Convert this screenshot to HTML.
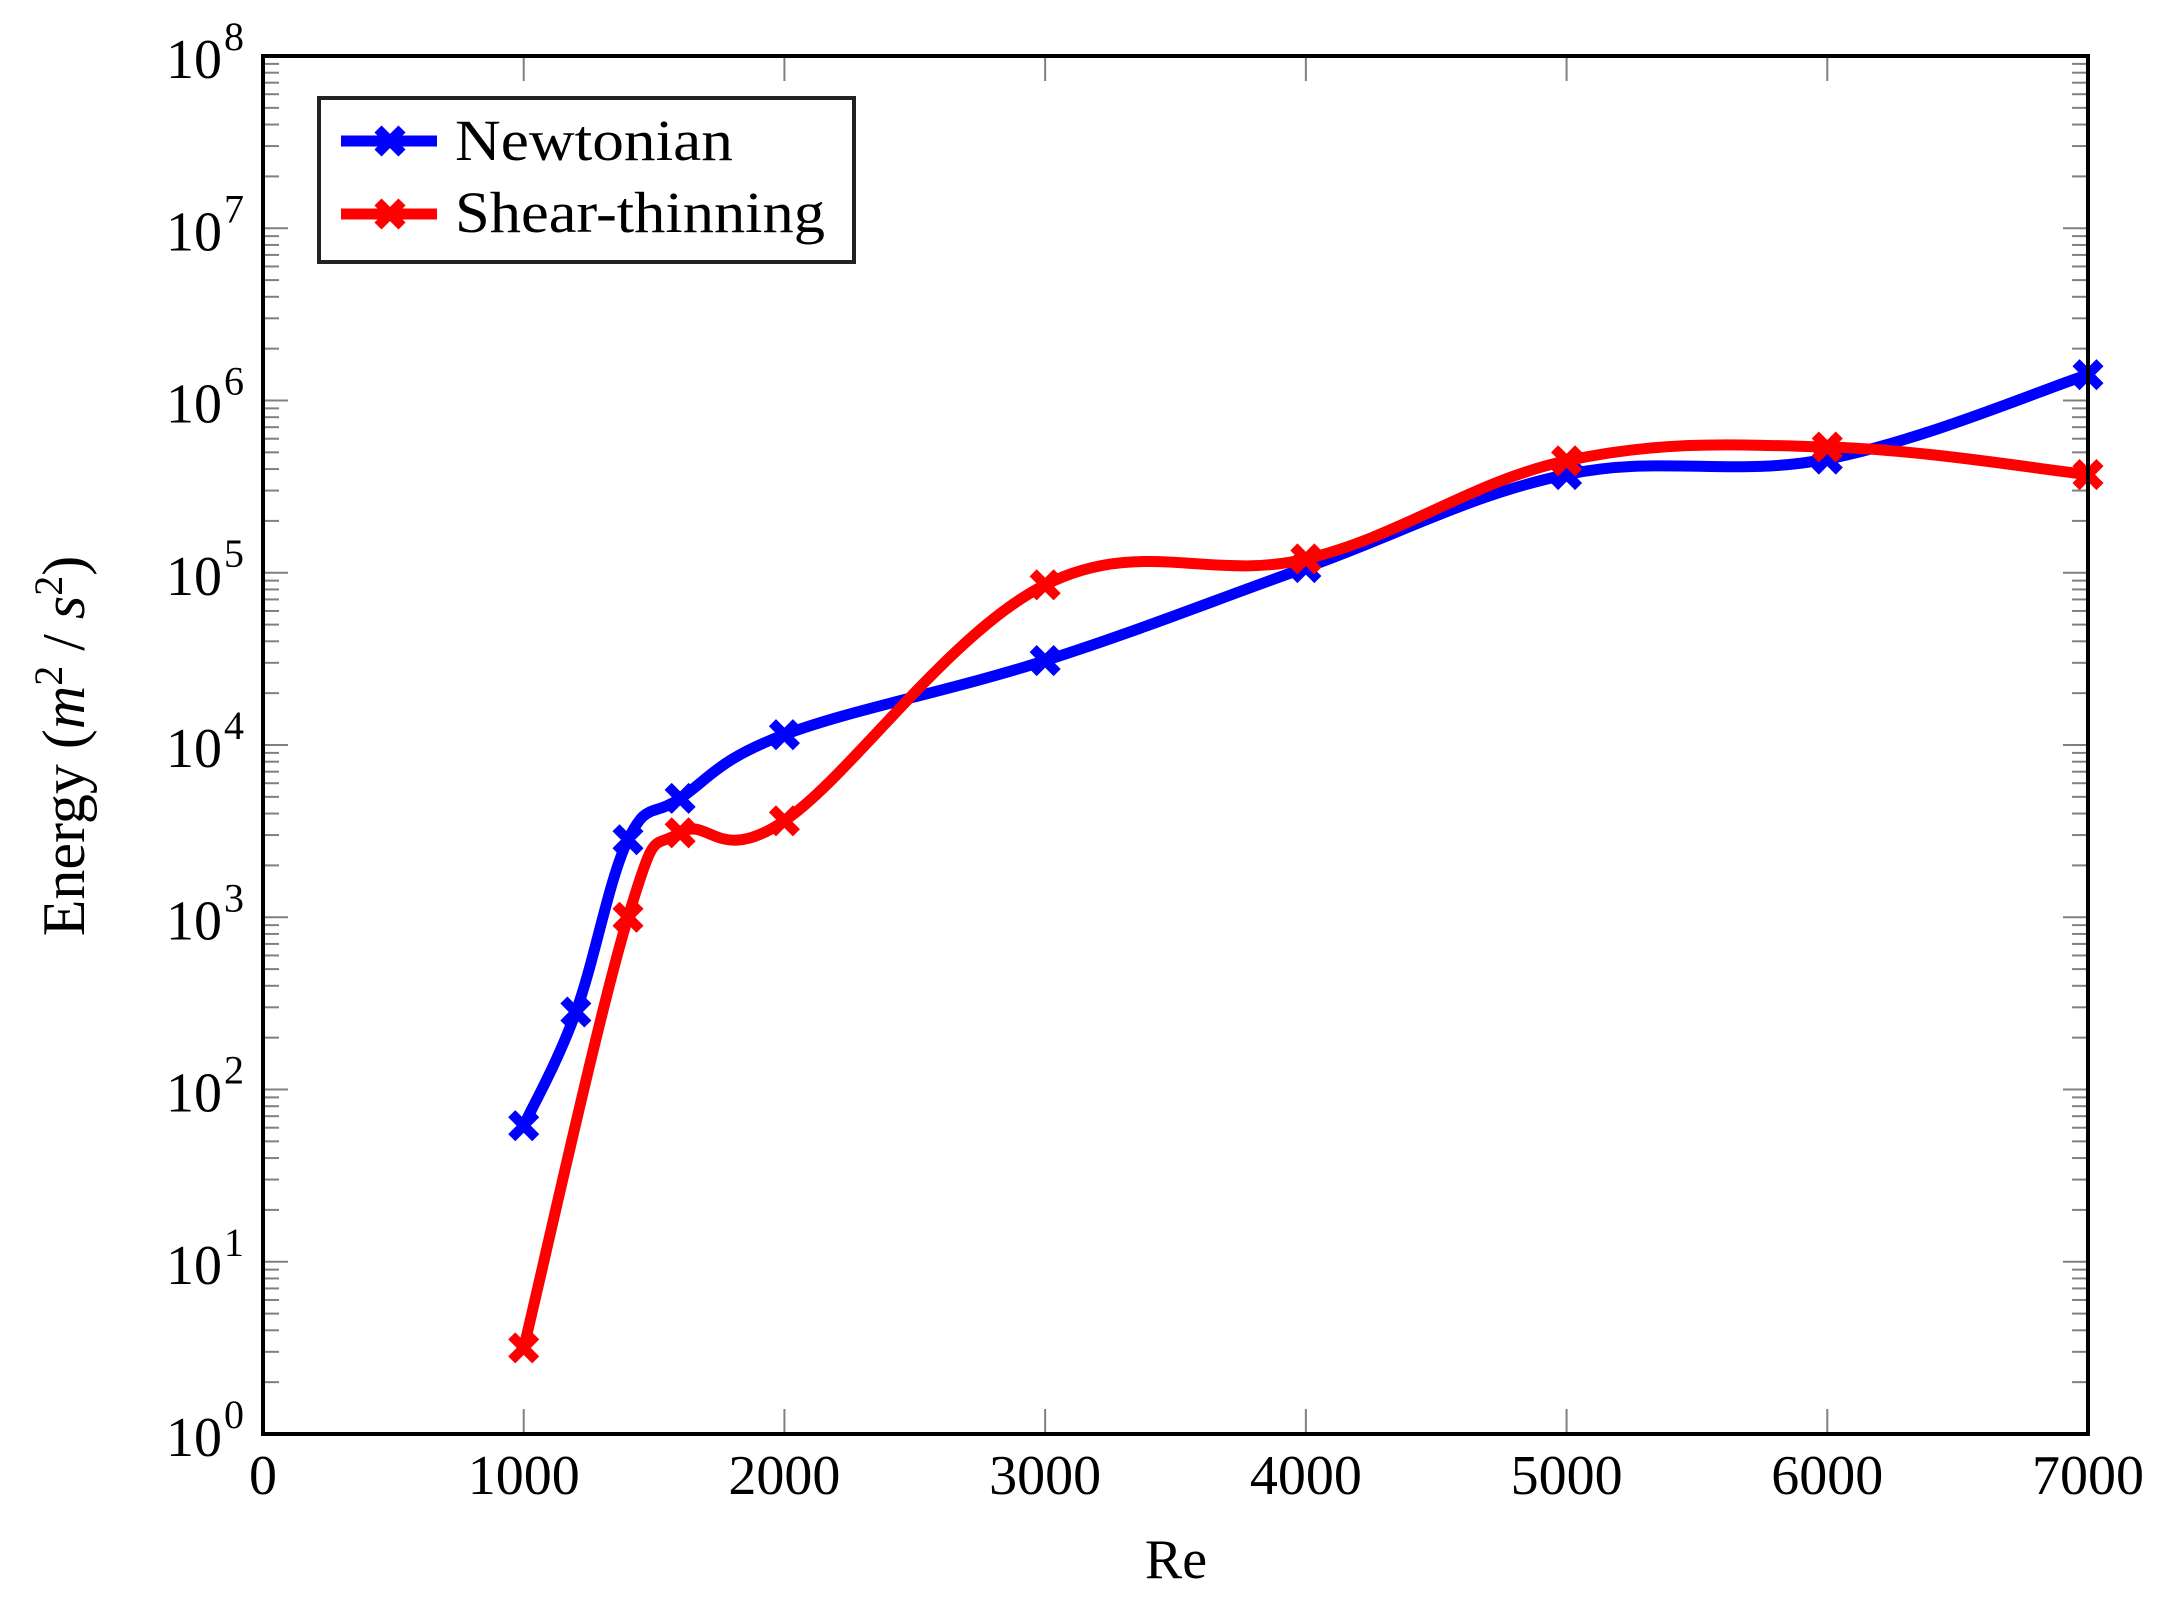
<!DOCTYPE html>
<html><head><meta charset="utf-8"><style>
html,body{margin:0;padding:0;background:#fff;}
svg{display:block;}
text{font-family:"Liberation Serif",serif;fill:#000;}
</style></head><body>
<svg id="s" width="2162" height="1605" viewBox="0 0 2162 1605" xmlns="http://www.w3.org/2000/svg">
<g id="ticks" stroke="#808080" stroke-width="2"></g>
<g id="labels" font-size="56"></g>
<g id="series"></g>
<rect x="263" y="56" width="1825" height="1378" fill="none" stroke="#000" stroke-width="4"/>
<g>
<rect x="319" y="98" width="535" height="164" fill="#fff" stroke="#222" stroke-width="4"/>
<line x1="341" y1="141" x2="437" y2="141" stroke="#0000ff" stroke-width="11"/>
<g stroke="#0000ff" stroke-width="10"><line x1="378" y1="129" x2="402" y2="153"/><line x1="378" y1="153" x2="402" y2="129"/></g>
<line x1="341" y1="214" x2="437" y2="214" stroke="#ff0000" stroke-width="11"/>
<g stroke="#ff0000" stroke-width="10"><line x1="378" y1="202" x2="402" y2="226"/><line x1="378" y1="226" x2="402" y2="202"/></g>
<text x="455" y="160" font-size="58" textLength="278" lengthAdjust="spacingAndGlyphs">Newtonian</text>
<text x="455" y="232" font-size="58" textLength="370" lengthAdjust="spacingAndGlyphs">Shear-thinning</text>
</g>
<text x="1176" y="1578" font-size="56" text-anchor="middle">Re</text>
<text transform="translate(84,746) rotate(-90)" font-size="60" text-anchor="middle">Energy (<tspan font-style="italic">m</tspan><tspan font-size="40" dy="-22">2</tspan><tspan dy="22"> / </tspan><tspan font-style="italic">s</tspan><tspan font-size="40" dy="-22">2</tspan><tspan dy="22">)</tspan></text>
</svg>
<script>
var X0=263,X1=2088,Y0=1434,D=172.25;
function px(r){return X0+(X1-X0)*r/7000;}
function py(l){return Y0-D*l;}
var NS="http://www.w3.org/2000/svg";
function el(t,a,p){var e=document.createElementNS(NS,t);for(var k in a)e.setAttribute(k,a[k]);p.appendChild(e);return e;}
var tk=document.getElementById('ticks'),lb=document.getElementById('labels');
for(var d=0;d<=8;d++){
  var y=py(d);
  el('line',{x1:X0,y1:y,x2:X0+25,y2:y},tk);el('line',{x1:X1,y1:y,x2:X1-25,y2:y},tk);
  var t=el('text',{x:222,y:y+22,'text-anchor':'end'},lb);t.textContent='10';
  var s=el('text',{x:224,y:y-6,'font-size':'40'},lb);s.textContent=String(d);
  if(d<8)for(var m=2;m<=9;m++){var yy=py(d+Math.log10(m));
    el('line',{x1:X0,y1:yy,x2:X0+16,y2:yy},tk);el('line',{x1:X1,y1:yy,x2:X1-16,y2:yy},tk);}
}
for(var r=0;r<=7000;r+=1000){var x=px(r);
  el('line',{x1:x,y1:Y0,x2:x,y2:Y0-25},tk);el('line',{x1:x,y1:56,x2:x,y2:81},tk);
  var t=el('text',{x:x,y:1494,'text-anchor':'middle'},lb);t.textContent=String(r);}
var N=[[1000,1.79],[1200,2.45],[1400,3.45],[1600,3.69],[2000,4.06],[3000,4.49],[4000,5.03],[5000,5.57],[6000,5.66],[7000,6.15]];
var S=[[1000,0.5],[1400,3.0],[1600,3.49],[2000,3.56],[3000,4.93],[4000,5.08],[5000,5.65],[6000,5.73],[7000,5.57]];
var g=document.getElementById('series');
function draw(data,col){
  var p=data.map(function(a){return [px(a[0]),py(a[1])];});
  var d='M'+p[0][0]+','+p[0][1];var k=0.55/3;
  for(var i=0;i<p.length-1;i++){
    var a=p[i-1]||p[i],b=p[i],c=p[i+1],e=p[i+2]||p[i+1];
    var c1=[b[0]+(c[0]-a[0])*k,b[1]+(c[1]-a[1])*k],c2=[c[0]-(e[0]-b[0])*k,c[1]-(e[1]-b[1])*k];
    d+=' C'+c1+' '+c2+' '+c;
  }
  el('path',{d:d,fill:'none',stroke:col,'stroke-width':11,'stroke-linejoin':'round'},g);
  p.forEach(function(q){var s=12;
    el('line',{x1:q[0]-s,y1:q[1]-s,x2:q[0]+s,y2:q[1]+s,stroke:col,'stroke-width':10},g);
    el('line',{x1:q[0]-s,y1:q[1]+s,x2:q[0]+s,y2:q[1]-s,stroke:col,'stroke-width':10},g);});
}
draw(N,'#0000ff');draw(S,'#ff0000');
</script>
</body></html>
